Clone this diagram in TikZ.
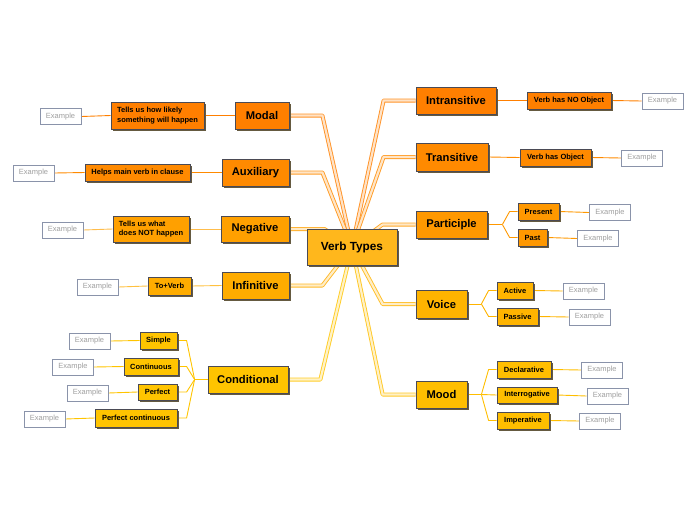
\documentclass[tikz,border=0pt]{standalone}
\usepackage{fontspec}
\setmainfont{Liberation Sans}
\usetikzlibrary{shadows,backgrounds,calc}
\definecolor{cModal}{HTML}{FF7F00}
\definecolor{cAux}{HTML}{FF8A00}
\definecolor{cNeg}{HTML}{FFA000}
\definecolor{cInf}{HTML}{FFAC00}
\definecolor{cCond}{HTML}{FFC400}
\definecolor{cPart}{HTML}{FF9800}
\definecolor{cVoice}{HTML}{FFB400}
\definecolor{cMood}{HTML}{FFBE00}
\definecolor{cCenter}{HTML}{FFB71C}
\definecolor{bordc}{HTML}{4A4A55}
\definecolor{shadc}{HTML}{655A40}
\definecolor{exbord}{HTML}{8A93AA}
\definecolor{extext}{HTML}{A0A0A0}
\tikzset{
  box/.style={draw=bordc, line width=0.8pt, inner sep=0pt, fill=#1,
    drop shadow={shadow xshift=2pt, shadow yshift=-2pt, fill=shadc, opacity=1}},
  mainbox/.style={box=#1, font=\bfseries\fontsize{11.2}{13}\selectfont},
  subbox/.style={box=#1, font=\bfseries\fontsize{7.5}{9.5}\selectfont},
  exbox/.style={draw=exbord, line width=0.8pt, fill=white, inner sep=0pt,
    minimum width=41pt, minimum height=16pt, text=extext,
    font=\fontsize{7.5}{9}\selectfont},
  mainconn/.style={draw=#1!85!white, double=#1!22!white, line width=0.9pt,
    double distance=2.2pt, line join=round},
  subconn/.style={draw=#1, line width=0.9pt, line join=round},
}
\begin{document}
\begin{tikzpicture}[x=1pt,y=-1pt]
\useasboundingbox (0,0) rectangle (697,520);
% center
\node[mainbox=cCenter, font=\bfseries\fontsize{11.8}{13}\selectfont, minimum width=90pt, minimum height=36pt] (vt) at (352,247) {Verb Types};
% left side
\node[mainbox=cModal, minimum width=54pt, minimum height=27pt] (modal) at (262,115.5) {Modal};
\node[subbox=cModal, minimum width=93pt, minimum height=27pt, align=left] (tmodal) at (157.5,115.5) {Tells us how likely\\something will happen};
\node[exbox] (emodal) at (60.5,116.5) {Example};
\node[mainbox=cAux, minimum width=67pt, minimum height=27pt] (aux) at (255.5,172.5) {Auxiliary};
\node[subbox=cAux, minimum width=105pt, minimum height=17pt] (taux) at (137.5,172.5) {Helps main verb in clause};
\node[exbox] (eaux) at (33.5,173) {Example};
\node[mainbox=cNeg, minimum width=68pt, minimum height=26pt] (neg) at (255,229) {Negative};
\node[subbox=cNeg, minimum width=76pt, minimum height=26pt, align=left] (tneg) at (151,229) {Tells us what\\does NOT happen};
\node[exbox] (eneg) at (62.5,230) {Example};
\node[mainbox=cInf, minimum width=67pt, minimum height=27pt] (inf) at (255.5,285.5) {Infinitive};
\node[subbox=cInf, minimum width=43pt, minimum height=18pt] (tinf) at (169.5,286) {To+Verb};
\node[exbox] (einf) at (97.5,287) {Example};
\node[mainbox=cCond, minimum width=80pt, minimum height=27pt] (cond) at (248,379.5) {Conditional};
\node[subbox=cCond, minimum width=37pt, minimum height=17pt] (simple) at (158.5,340.5) {Simple};
\node[exbox] (esimple) at (89.5,341) {Example};
\node[subbox=cCond, minimum width=54pt, minimum height=17pt] (cont) at (151,366.5) {Continuous};
\node[exbox] (econt) at (73,367) {Example};
\node[subbox=cCond, minimum width=39pt, minimum height=16pt] (perf) at (157.5,392) {Perfect};
\node[exbox] (eperf) at (87.5,393) {Example};
\node[subbox=cCond, minimum width=82pt, minimum height=18pt] (pcont) at (136,418) {Perfect continuous};
\node[exbox] (epcont) at (44.5,419) {Example};
% right side
\node[mainbox=cModal, minimum width=80pt, minimum height=27pt] (intr) at (456,100.5) {Intransitive};
\node[subbox=cModal, minimum width=84pt, minimum height=17pt] (tintr) at (569,100.5) {Verb has NO Object};
\node[exbox] (eintr) at (662.5,101) {Example};
\node[mainbox=cAux, minimum width=72pt, minimum height=28pt] (trans) at (452,157) {Transitive};
\node[subbox=cAux, minimum width=71pt, minimum height=17pt] (ttrans) at (555.5,157.5) {Verb has Object};
\node[exbox] (etrans) at (642,158) {Example};
\node[mainbox=cPart, minimum width=71pt, minimum height=27pt] (part) at (451.5,224.5) {Participle};
\node[subbox=cPart, minimum width=41pt, minimum height=17pt] (pres) at (538.5,211.5) {Present};
\node[exbox] (epres) at (610,212.5) {Example};
\node[subbox=cPart, minimum width=29pt, minimum height=17pt] (past) at (532.5,237.5) {Past};
\node[exbox] (epast) at (598,238.5) {Example};
\node[mainbox=cVoice, minimum width=51pt, minimum height=28pt] (voice) at (441.5,304) {Voice};
\node[subbox=cVoice, minimum width=36pt, minimum height=17pt] (act) at (515,290.5) {Active};
\node[exbox] (eact) at (583.5,291) {Example};
\node[subbox=cVoice, minimum width=41pt, minimum height=17pt] (pass) at (517.5,316.5) {Passive};
\node[exbox] (epass) at (589.5,317) {Example};
\node[mainbox=cMood, minimum width=51pt, minimum height=27pt] (mood) at (441.5,394.5) {Mood};
\node[subbox=cMood, minimum width=54pt, minimum height=17pt] (decl) at (524,369.5) {Declarative};
\node[exbox] (edecl) at (602,370) {Example};
\node[subbox=cMood, minimum width=60pt, minimum height=16pt] (inter) at (527,395) {Interrogative};
\node[exbox] (einter) at (607.5,396) {Example};
\node[subbox=cMood, minimum width=52pt, minimum height=17pt] (imp) at (523,420.5) {Imperative};
\node[exbox] (eimp) at (600,421) {Example};
% fork coordinates
\coordinate (pj) at ([xshift=15pt]part.east);
\coordinate (vj) at ([xshift=14pt]voice.east);
\coordinate (mj) at ([xshift=14pt]mood.east);
\coordinate (cj) at ([xshift=-13pt]cond.west);
\coordinate (cjc) at ([xshift=-21pt]cond.west);
\begin{scope}[on background layer]
% main connectors
\draw[mainconn=cModal] (modal.east) -- ++(33,0) -- (vt.center);
\draw[mainconn=cAux] (aux.east) -- ++(33,0) -- (vt.center);
\draw[mainconn=cNeg] (neg.east) -- ++(35,0) -- (vt.center);
\draw[mainconn=cInf] (inf.east) -- ++(33,0) -- (vt.center);
\draw[mainconn=cCond] (cond.east) -- ++(32,0) -- (vt.center);
\draw[mainconn=cModal] (intr.west) -- ++(-32,0) -- (vt.center);
\draw[mainconn=cAux] (trans.west) -- ++(-32,0) -- (vt.center);
\draw[mainconn=cPart] (part.west) -- ++(-33,0) -- (vt.center);
\draw[mainconn=cVoice] (voice.west) -- ++(-33,0) -- (vt.center);
\draw[mainconn=cMood] (mood.west) -- ++(-33,0) -- (vt.center);
% sub connectors left
\draw[subconn=cModal] (modal.west) -- (tmodal.east);
\draw[subconn=cModal] (tmodal.west) -- (emodal.east);
\draw[subconn=cAux] (aux.west) -- (taux.east);
\draw[subconn=cAux] (taux.west) -- (eaux.east);
\draw[subconn=cNeg!70!white] (neg.west) -- (tneg.east);
\draw[subconn=cNeg!70!white] (tneg.west) -- (eneg.east);
\draw[subconn=cInf!75!white] (inf.west) -- (tinf.east);
\draw[subconn=cInf!75!white] (tinf.west) -- (einf.east);
\draw[subconn=cCond] (cond.west) -- (cj);
\draw[subconn=cCond] (cj) -- (cjc |- simple.east) -- (simple.east);
\draw[subconn=cCond] (cj) -- (cjc |- cont.east) -- (cont.east);
\draw[subconn=cCond] (cj) -- (cjc |- perf.east) -- (perf.east);
\draw[subconn=cCond] (cj) -- (cjc |- pcont.east) -- (pcont.east);
\draw[subconn=cCond] (simple.west) -- (esimple.east);
\draw[subconn=cCond] (cont.west) -- (econt.east);
\draw[subconn=cCond] (perf.west) -- (eperf.east);
\draw[subconn=cCond] (pcont.west) -- (epcont.east);
% sub connectors right
\draw[subconn=cModal] (intr.east) -- (tintr.west);
\draw[subconn=cModal] (tintr.east) -- (eintr.west);
\draw[subconn=cAux] (trans.east) -- (ttrans.west);
\draw[subconn=cAux] (ttrans.east) -- (etrans.west);
\draw[subconn=cPart] (part.east) -- (pj);
\draw[subconn=cPart] (pj) -- ([xshift=-8pt]pres.west) -- (pres.west);
\draw[subconn=cPart] (pj) -- ([xshift=-8pt]past.west) -- (past.west);
\draw[subconn=cPart] (pres.east) -- (epres.west);
\draw[subconn=cPart] (past.east) -- (epast.west);
\draw[subconn=cVoice] (voice.east) -- (vj);
\draw[subconn=cVoice] (vj) -- ([xshift=-8pt]act.west) -- (act.west);
\draw[subconn=cVoice] (vj) -- ([xshift=-8pt]pass.west) -- (pass.west);
\draw[subconn=cVoice] (act.east) -- (eact.west);
\draw[subconn=cVoice] (pass.east) -- (epass.west);
\draw[subconn=cMood] (mood.east) -- (mj);
\draw[subconn=cMood] (mj) -- ([xshift=-8pt]decl.west) -- (decl.west);
\draw[subconn=cMood] (mj) -- (inter.west);
\draw[subconn=cMood] (mj) -- ([xshift=-8pt]imp.west) -- (imp.west);
\draw[subconn=cMood] (decl.east) -- (edecl.west);
\draw[subconn=cMood] (inter.east) -- (einter.west);
\draw[subconn=cMood] (imp.east) -- (eimp.west);
\end{scope}
\end{tikzpicture}
\end{document}
